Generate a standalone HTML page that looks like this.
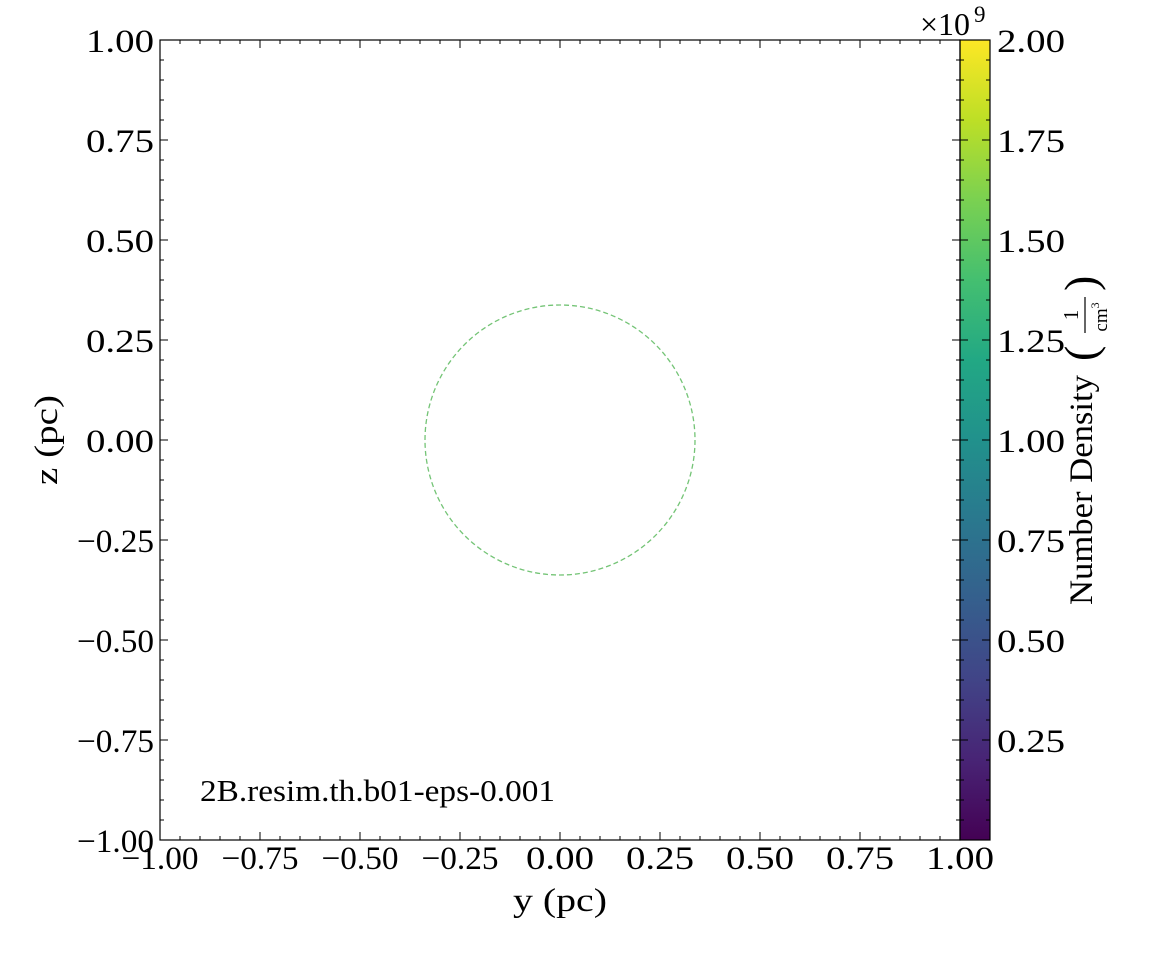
<!DOCTYPE html>
<html><head><meta charset="utf-8"><style>
html,body{margin:0;padding:0;background:#fff;width:1155px;height:960px;overflow:hidden}
svg text{font-family:"Liberation Serif","DejaVu Serif",serif;fill:#000}
</style></head><body>
<svg id="c" width="1155" height="960" xmlns="http://www.w3.org/2000/svg">
<defs>
<linearGradient id="vir" x1="0" y1="1" x2="0" y2="0">
<stop offset="0" stop-color="#440154"/><stop offset="0.1" stop-color="#482475"/>
<stop offset="0.2" stop-color="#414487"/><stop offset="0.3" stop-color="#355f8d"/>
<stop offset="0.4" stop-color="#2a788e"/><stop offset="0.5" stop-color="#21918c"/>
<stop offset="0.6" stop-color="#22a884"/><stop offset="0.7" stop-color="#44bf70"/>
<stop offset="0.8" stop-color="#7ad151"/><stop offset="0.9" stop-color="#bddf26"/>
<stop offset="1" stop-color="#fde725"/></linearGradient>
</defs>
<rect x="960" y="40" width="30" height="800" fill="url(#vir)"/>
<rect x="160" y="40" width="800" height="800" fill="none" stroke="#000" stroke-width="1.2"/>
<rect x="960" y="40" width="30" height="800" fill="none" stroke="#000" stroke-width="1.2"/>
<g id="g"></g>
<text x="200" y="801" font-size="31" textLength="355" lengthAdjust="spacingAndGlyphs">2B.resim.th.b01-eps-0.001</text>
<text x="513" y="911" font-size="33" textLength="94" lengthAdjust="spacingAndGlyphs">y  (pc)</text>
<text transform="translate(57,485) rotate(-90)" font-size="33" textLength="90" lengthAdjust="spacingAndGlyphs">z  (pc)</text>
<text x="920" y="35" font-size="32" textLength="50" lengthAdjust="spacingAndGlyphs">×10</text>
<text x="974" y="22" font-size="23">9</text>
<g transform="translate(1092,605) rotate(-90)">
<text x="0" y="0" font-size="33" textLength="230" lengthAdjust="spacingAndGlyphs">Number Density</text>
<text x="244" y="4" font-size="46">(</text>
<text x="290" y="-14" font-size="21" text-anchor="middle">1</text>
<line x1="272" y1="-7" x2="308" y2="-7" stroke="#000" stroke-width="1.2"/>
<text x="288" y="15" font-size="19" text-anchor="middle">cm<tspan font-size="12" dy="-8">3</tspan></text>
<text x="314" y="4" font-size="46">)</text>
</g>
</svg>
<script>
const xTicks=[-1,-0.75,-0.5,-0.25,0,0.25,0.5,0.75,1];
const xTickLabels=["−1.00","−0.75","−0.50","−0.25","0.00","0.25","0.50","0.75","1.00"];
const yTicks=[-1,-0.75,-0.5,-0.25,0,0.25,0.5,0.75,1];
const yTickLabels=["−1.00","−0.75","−0.50","−0.25","0.00","0.25","0.50","0.75","1.00"];
const cbTicks=[0.25,0.5,0.75,1,1.25,1.5,1.75,2];
const cbTickLabels=["0.25","0.50","0.75","1.00","1.25","1.50","1.75","2.00"];
const circleCenter=[0,0];
const circleRadius=[0.3375];
const NS="http://www.w3.org/2000/svg";
const g=document.getElementById('g');
const X=v=>160+(v+1)*400, Y=v=>840-(v+1)*400, CB=v=>840-v/2*800;
function ln(x1,y1,x2,y2,name){const l=document.createElementNS(NS,'line');
l.setAttribute('x1',x1);l.setAttribute('y1',y1);l.setAttribute('x2',x2);l.setAttribute('y2',y2);
l.setAttribute('stroke','#000');l.setAttribute('stroke-width','1');


g.appendChild(l);}
function tx(x,y,s,anchor,name){const t=document.createElementNS(NS,'text');
t.setAttribute('x',x);t.setAttribute('y',y);t.setAttribute('font-size','33');t.setAttribute('text-anchor',anchor);
t.setAttribute('textLength',s.charAt(0)==='−'?77:68);t.setAttribute('lengthAdjust','spacingAndGlyphs');
t.textContent=s;


g.appendChild(t);}
for(let i=0;i<=40;i++){const v=-1+i*0.05;const maj=i%5===0;const L=maj?8:4;
ln(X(v),840,X(v),840-L,'x-tick');ln(X(v),40,X(v),40+L,'x-tick-top');
ln(160,Y(v),160+L,Y(v),'y-tick');ln(960,Y(v),960-L,Y(v),'y-tick-right');}
xTicks.forEach((v,i)=>tx(X(v),869,xTickLabels[i],'middle','x-tick-label'));
yTicks.forEach((v,i)=>tx(154,Y(v)+12,yTickLabels[i],'end','y-tick-label'));
for(let i=1;i<=40;i++){const v=i*0.05;const maj=i%5===0;const L=maj?8:4;
ln(960,CB(v),960+L,CB(v),'colorbar-tick-left');ln(990,CB(v),990-L,CB(v),'colorbar-tick');}
cbTicks.forEach((v,i)=>tx(997,CB(v)+12,cbTickLabels[i],'start','colorbar-tick-label'));
const c=document.createElementNS(NS,'circle');
c.setAttribute('cx',X(circleCenter[0]));c.setAttribute('cy',Y(circleCenter[1]));
c.setAttribute('r',circleRadius[0]*400);c.setAttribute('fill','none');
c.setAttribute('stroke','#74c476');c.setAttribute('stroke-width','1.3');c.setAttribute('stroke-dasharray','5,3');


g.appendChild(c);
</script>
</body></html>
